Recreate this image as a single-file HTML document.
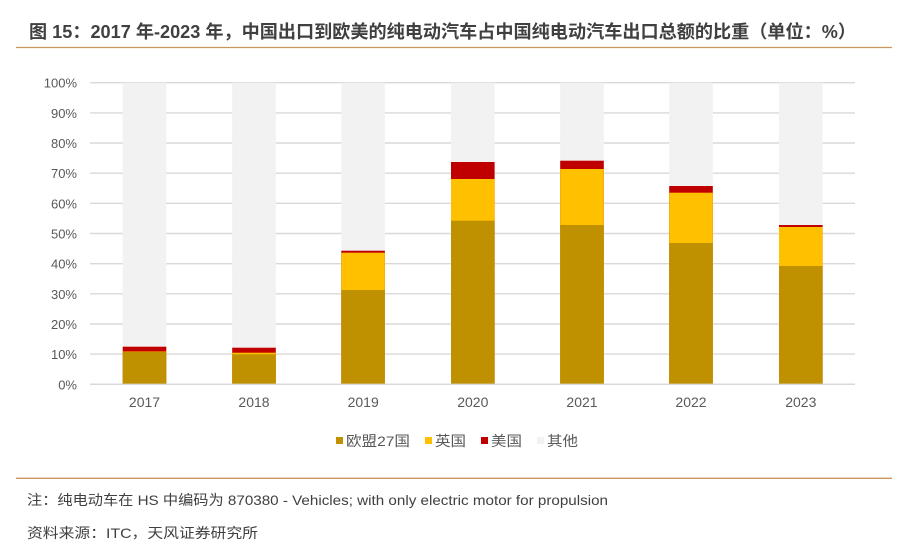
<!DOCTYPE html>
<html>
<head>
<meta charset="utf-8">
<style>
html,body{margin:0;padding:0;background:#fff;}
svg{display:block;}
</style>
</head>
<body>
<svg width="907" height="557" viewBox="0 0 907 557" xmlns="http://www.w3.org/2000/svg">
<rect width="907" height="557" fill="#fff"/>
<!-- Title -->
<text x="29" y="38" font-family="'Liberation Sans','Noto Sans CJK SC',sans-serif" font-size="18" font-weight="bold" fill="#404040" textLength="827" lengthAdjust="spacingAndGlyphs">图 15：2017 年-2023 年，中国出口到欧美的纯电动汽车占中国纯电动汽车出口总额的比重（单位：%）</text>
<line x1="16" y1="47.5" x2="892" y2="47.5" stroke="#c9965e" stroke-width="1.3"/>

<!-- gridlines -->
<g stroke="#d9d9d9" stroke-width="1.4">
<line x1="90" y1="82.7" x2="855" y2="82.7"/>
<line x1="90" y1="112.9" x2="855" y2="112.9"/>
<line x1="90" y1="143.0" x2="855" y2="143.0"/>
<line x1="90" y1="173.2" x2="855" y2="173.2"/>
<line x1="90" y1="203.3" x2="855" y2="203.3"/>
<line x1="90" y1="233.5" x2="855" y2="233.5"/>
<line x1="90" y1="263.7" x2="855" y2="263.7"/>
<line x1="90" y1="293.8" x2="855" y2="293.8"/>
<line x1="90" y1="324.0" x2="855" y2="324.0"/>
<line x1="90" y1="354.1" x2="855" y2="354.1"/>
<line x1="90" y1="384.3" x2="855" y2="384.3"/>
</g>

<!-- y labels -->
<g font-family="'Liberation Sans',sans-serif" font-size="13" fill="#595959" text-anchor="end">
<text x="77" y="87.7">100%</text>
<text x="77" y="117.9">90%</text>
<text x="77" y="148.0">80%</text>
<text x="77" y="178.2">70%</text>
<text x="77" y="208.3">60%</text>
<text x="77" y="238.5">50%</text>
<text x="77" y="268.7">40%</text>
<text x="77" y="298.8">30%</text>
<text x="77" y="329.0">20%</text>
<text x="77" y="359.1">10%</text>
<text x="77" y="389.3">0%</text>
</g>

<!-- bars: others (full), then US, UK, EU -->
<g>
<!-- 2017 -->
<rect x="122.7" y="82.7" width="43.6" height="301.6" fill="#f2f2f2"/>
<rect x="122.7" y="346.7" width="43.6" height="37.6" fill="#c00000"/>
<rect x="122.7" y="351.5" width="43.6" height="32.8" fill="#ffc000"/>
<rect x="122.7" y="352" width="43.6" height="32.3" fill="#bf9000"/>
<!-- 2018 -->
<rect x="232.2" y="82.7" width="43.6" height="301.6" fill="#f2f2f2"/>
<rect x="232.2" y="347.7" width="43.6" height="36.6" fill="#c00000"/>
<rect x="232.2" y="352.7" width="43.6" height="31.6" fill="#ffc000"/>
<rect x="232.2" y="354.3" width="43.6" height="30" fill="#bf9000"/>
<!-- 2019 -->
<rect x="341.3" y="82.7" width="43.6" height="301.6" fill="#f2f2f2"/>
<rect x="341.3" y="250.7" width="43.6" height="133.6" fill="#c00000"/>
<rect x="341.3" y="252.7" width="43.6" height="131.6" fill="#ffc000"/>
<rect x="341.3" y="290" width="43.6" height="94.3" fill="#bf9000"/>
<!-- 2020 -->
<rect x="451" y="82.7" width="43.6" height="301.6" fill="#f2f2f2"/>
<rect x="451" y="162" width="43.6" height="222.3" fill="#c00000"/>
<rect x="451" y="179" width="43.6" height="205.3" fill="#ffc000"/>
<rect x="451" y="220.7" width="43.6" height="163.6" fill="#bf9000"/>
<!-- 2021 -->
<rect x="560.2" y="82.7" width="43.6" height="301.6" fill="#f2f2f2"/>
<rect x="560.2" y="160.7" width="43.6" height="223.6" fill="#c00000"/>
<rect x="560.2" y="169" width="43.6" height="215.3" fill="#ffc000"/>
<rect x="560.2" y="225" width="43.6" height="159.3" fill="#bf9000"/>
<!-- 2022 -->
<rect x="669.2" y="82.7" width="43.6" height="301.6" fill="#f2f2f2"/>
<rect x="669.2" y="186" width="43.6" height="198.3" fill="#c00000"/>
<rect x="669.2" y="192.7" width="43.6" height="191.6" fill="#ffc000"/>
<rect x="669.2" y="243" width="43.6" height="141.3" fill="#bf9000"/>
<!-- 2023 -->
<rect x="779" y="82.7" width="43.6" height="301.6" fill="#f2f2f2"/>
<rect x="779" y="225" width="43.6" height="159.3" fill="#c00000"/>
<rect x="779" y="227" width="43.6" height="157.3" fill="#ffc000"/>
<rect x="779" y="266" width="43.6" height="118.3" fill="#bf9000"/>
</g>
<line x1="90" y1="384.3" x2="855" y2="384.3" stroke="#d9d9d9" stroke-width="1.4"/>

<!-- x labels -->
<g font-family="'Liberation Sans',sans-serif" font-size="14" fill="#595959" text-anchor="middle">
<text x="144.5" y="407">2017</text>
<text x="254" y="407">2018</text>
<text x="363.2" y="407">2019</text>
<text x="472.8" y="407">2020</text>
<text x="582" y="407">2021</text>
<text x="691" y="407">2022</text>
<text x="800.8" y="407">2023</text>
</g>

<!-- legend -->
<g font-family="'Liberation Sans','Noto Sans CJK SC',sans-serif" font-size="14" fill="#595959">
<rect x="336" y="437" width="7" height="7" fill="#bf9000"/>
<text x="346" y="446" textLength="64" lengthAdjust="spacingAndGlyphs">欧盟27国</text>
<rect x="425" y="437" width="7" height="7" fill="#ffc000"/>
<text x="435" y="446" textLength="31" lengthAdjust="spacingAndGlyphs">英国</text>
<rect x="481" y="437" width="7" height="7" fill="#c00000"/>
<text x="491" y="446" textLength="31" lengthAdjust="spacingAndGlyphs">美国</text>
<rect x="537" y="437" width="7" height="7" fill="#f2f2f2"/>
<text x="547" y="446" textLength="31" lengthAdjust="spacingAndGlyphs">其他</text>
</g>

<!-- footer -->
<line x1="16" y1="478.3" x2="892" y2="478.3" stroke="#c9965e" stroke-width="1.3"/>
<g font-family="'Liberation Sans','Noto Sans CJK SC',sans-serif" font-size="14" fill="#404040">
<text x="27" y="505" textLength="581" lengthAdjust="spacingAndGlyphs">注：纯电动车在 HS 中编码为 870380 - Vehicles; with only electric motor for propulsion</text>
<text x="27" y="538" textLength="231" lengthAdjust="spacingAndGlyphs">资料来源：ITC，天风证券研究所</text>
</g>
</svg>
</body>
</html>
